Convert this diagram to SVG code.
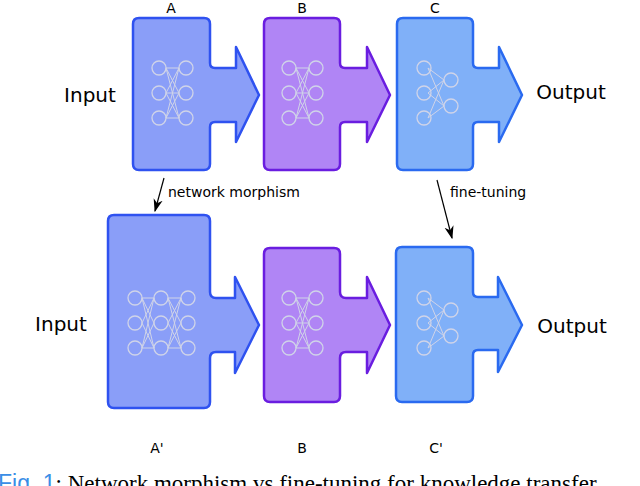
<svg xmlns="http://www.w3.org/2000/svg" width="640" height="486" viewBox="0 0 640 486">
<style>
.blk{stroke-width:2.5;stroke-linejoin:round}
.a{fill:#8a9ef8;stroke:#2f52f0}
.b{fill:#b085f5;stroke:#6a1de0}
.c{fill:#80b0f8;stroke:#2a6af0}
.nn circle{fill:none;stroke:#d0d4e8;stroke-width:1.3}
.nn line{stroke:#d0d4e8;stroke-width:1}
text{font-family:"DejaVu Sans",sans-serif;fill:#000}
.big{font-size:20px}
.sm{font-size:14px}
.con{stroke:#000;stroke-width:1.2;fill:none}
</style>
<defs>
<marker id="ah" viewBox="0 0 10 10" refX="9" refY="5" markerWidth="11" markerHeight="11" orient="auto"><path d="M0,1.5 L10,5 L0,8.5 L3,5 Z" fill="#000"/></marker>
</defs>
<rect width="640" height="486" fill="#fff"/>
<g id="nodeA">
<path class="blk a" d="M139,18 H204 Q210,18 210,24 V63 Q210,68 215,68 H236 V47 L259,95 L236,142 V122 H215 Q210,122 210,127 V164 Q210,170 204,170 H139 Q133,170 133,164 V24 Q133,18 139,18 Z"/>
<g class="nn"><line x1="166" y1="68" x2="179" y2="118"/><line x1="166" y1="118" x2="179" y2="68"/><line x1="166" y1="93" x2="179" y2="68"/><line x1="166" y1="93" x2="179" y2="118"/><line x1="166" y1="68" x2="179" y2="93"/><line x1="166" y1="118" x2="179" y2="93"/><line x1="166" y1="68" x2="179" y2="68"/><line x1="166" y1="93" x2="179" y2="93"/><line x1="166" y1="118" x2="179" y2="118"/>
<circle cx="159" cy="68" r="7"/><circle cx="159" cy="93" r="7"/><circle cx="159" cy="118" r="7"/><circle cx="186" cy="68" r="7"/><circle cx="186" cy="93" r="7"/><circle cx="186" cy="118" r="7"/></g>
<text x="171" y="13" class="sm" text-anchor="middle">A</text>
</g>
<g id="nodeB">
<path class="blk b" d="M270,18 H334 Q340,18 340,24 V63 Q340,68 345,68 H367 V47 L390,95 L367,142 V122 H345 Q340,122 340,127 V164 Q340,170 334,170 H270 Q264,170 264,164 V24 Q264,18 270,18 Z"/>
<g class="nn"><line x1="296" y1="68" x2="309" y2="118"/><line x1="296" y1="118" x2="309" y2="68"/><line x1="296" y1="93" x2="309" y2="68"/><line x1="296" y1="93" x2="309" y2="118"/><line x1="296" y1="68" x2="309" y2="93"/><line x1="296" y1="118" x2="309" y2="93"/><line x1="296" y1="68" x2="309" y2="68"/><line x1="296" y1="93" x2="309" y2="93"/><line x1="296" y1="118" x2="309" y2="118"/>
<circle cx="289" cy="68" r="7"/><circle cx="289" cy="93" r="7"/><circle cx="289" cy="118" r="7"/><circle cx="316" cy="68" r="7"/><circle cx="316" cy="93" r="7"/><circle cx="316" cy="118" r="7"/></g>
<text x="302" y="13" class="sm" text-anchor="middle">B</text>
</g>
<g id="nodeC">
<path class="blk c" d="M403,18 H467 Q473,18 473,24 V63 Q473,68 478,68 H499 V47 L522,95 L499,142 V122 H478 Q473,122 473,127 V164 Q473,170 467,170 H403 Q397,170 397,164 V24 Q397,18 403,18 Z"/>
<g class="nn"><line x1="428" y1="68" x2="444" y2="80"/><line x1="428" y1="68" x2="444" y2="106"/><line x1="428" y1="93" x2="444" y2="80"/><line x1="428" y1="93" x2="444" y2="106"/><line x1="428" y1="118" x2="444" y2="80"/><line x1="428" y1="118" x2="444" y2="106"/>
<circle cx="424" cy="68" r="7"/><circle cx="424" cy="93" r="7"/><circle cx="424" cy="118" r="7"/><circle cx="451" cy="80" r="7"/><circle cx="451" cy="106" r="7"/></g>
<text x="435" y="13" class="sm" text-anchor="middle">C</text>
</g>
<g id="nodeA2">
<path class="blk a" d="M114,215 H204 Q210,215 210,221 V292 Q210,298 216,298 H235 V277 L259,325 L235,373 V352 H216 Q210,352 210,358 V402 Q210,408 204,408 H114 Q108,408 108,402 V221 Q108,215 114,215 Z"/>
<g class="nn"><line x1="142" y1="298" x2="154" y2="348"/><line x1="142" y1="348" x2="154" y2="298"/><line x1="142" y1="323" x2="154" y2="298"/><line x1="142" y1="323" x2="154" y2="348"/><line x1="142" y1="298" x2="154" y2="323"/><line x1="142" y1="348" x2="154" y2="323"/><line x1="142" y1="298" x2="154" y2="298"/><line x1="142" y1="348" x2="154" y2="348"/>
<line x1="168" y1="298" x2="181" y2="348"/><line x1="168" y1="348" x2="181" y2="298"/><line x1="168" y1="323" x2="181" y2="298"/><line x1="168" y1="323" x2="181" y2="348"/><line x1="168" y1="298" x2="181" y2="323"/><line x1="168" y1="348" x2="181" y2="323"/><line x1="168" y1="298" x2="181" y2="298"/><line x1="168" y1="348" x2="181" y2="348"/>
<circle cx="135" cy="298" r="7"/><circle cx="135" cy="323" r="7"/><circle cx="135" cy="348" r="7"/><circle cx="161" cy="298" r="7"/><circle cx="161" cy="323" r="7"/><circle cx="161" cy="348" r="7"/><circle cx="188" cy="298" r="7"/><circle cx="188" cy="323" r="7"/><circle cx="188" cy="348" r="7"/></g>
<text x="157" y="453" class="sm" text-anchor="middle">A'</text>
</g>
<g id="nodeB2">
<path class="blk b" d="M270,248 H334 Q340,248 340,254 V292 Q340,298 346,298 H367 V277 L390,325 L367,373 V352 H346 Q340,352 340,358 V396 Q340,402 334,402 H270 Q264,402 264,396 V254 Q264,248 270,248 Z"/>
<g class="nn"><line x1="296" y1="298" x2="309" y2="348"/><line x1="296" y1="348" x2="309" y2="298"/><line x1="296" y1="323" x2="309" y2="298"/><line x1="296" y1="323" x2="309" y2="348"/><line x1="296" y1="298" x2="309" y2="323"/><line x1="296" y1="348" x2="309" y2="323"/><line x1="296" y1="298" x2="309" y2="298"/><line x1="296" y1="323" x2="309" y2="323"/><line x1="296" y1="348" x2="309" y2="348"/>
<circle cx="289" cy="298" r="7"/><circle cx="289" cy="323" r="7"/><circle cx="289" cy="348" r="7"/><circle cx="316" cy="298" r="7"/><circle cx="316" cy="323" r="7"/><circle cx="316" cy="348" r="7"/></g>
<text x="302" y="453" class="sm" text-anchor="middle">B</text>
</g>
<g id="nodeC2">
<path class="blk c" d="M402,247 H467 Q473,247 473,253 V292 Q473,297 478,297 H498 V277 L522,325 L498,372 V350 H478 Q473,350 473,355 V396 Q473,402 467,402 H402 Q396,402 396,396 V253 Q396,247 402,247 Z"/>
<g class="nn"><line x1="428" y1="298" x2="444" y2="310"/><line x1="428" y1="298" x2="444" y2="336"/><line x1="428" y1="323" x2="444" y2="310"/><line x1="428" y1="323" x2="444" y2="336"/><line x1="428" y1="348" x2="444" y2="310"/><line x1="428" y1="348" x2="444" y2="336"/>
<circle cx="424" cy="298" r="7"/><circle cx="424" cy="323" r="7"/><circle cx="424" cy="348" r="7"/><circle cx="451" cy="310" r="7"/><circle cx="451" cy="336" r="7"/></g>
<text x="436" y="453" class="sm" text-anchor="middle">C'</text>
</g>
<g id="connectors">
<line class="con" x1="164" y1="178" x2="155" y2="211" marker-end="url(#ah)"/>
<line class="con" x1="437" y1="180" x2="452" y2="238" marker-end="url(#ah)"/>
</g>
<g id="labels">
<text x="90" y="102" class="big" text-anchor="middle">Input</text>
<text x="571" y="99" class="big" text-anchor="middle">Output</text>
<text x="61" y="331" class="big" text-anchor="middle">Input</text>
<text x="572" y="333" class="big" text-anchor="middle">Output</text>
<text x="168" y="197" class="sm">network morphism</text>
<text x="450" y="197" class="sm">fine-tuning</text>
<text x="-2" y="491" font-size="23" style="font-family:'Liberation Serif',serif"><tspan fill="#3a8ee6" style="font-family:'Liberation Sans',sans-serif">Fig. 1</tspan>: Network morphism vs fine-tuning for knowledge transfer</text>
</g>
</svg>
